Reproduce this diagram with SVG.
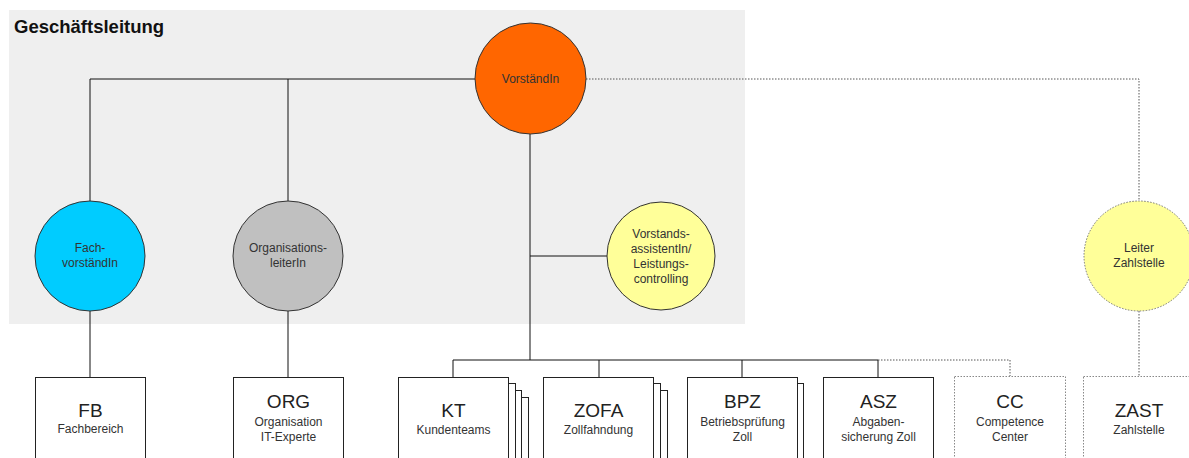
<svg xmlns="http://www.w3.org/2000/svg" width="1189" height="458" viewBox="0 0 1189 458">
<style>
text{font-family:"Liberation Sans",Arial,sans-serif;text-anchor:middle}
.title{font-size:18.5px;font-weight:bold;fill:#111;text-anchor:start}
.ct{font-size:12px;fill:#333}
.bt{font-size:19px;fill:#222}
.bs{font-size:12px;fill:#333}
.circ{stroke:#333;stroke-width:1}
.box{fill:#fff;stroke:#222;stroke-width:1}
.dbox{fill:#fff;stroke:#888;stroke-width:1;stroke-dasharray:1.5 1.5}
.solid{fill:none;stroke:#111;stroke-width:1}
.dot{fill:none;stroke:#555;stroke-width:1;stroke-dasharray:1.5 1.5}
</style>
<rect width="1189" height="458" fill="#fff"/>
<rect id="geschaeftsleitung" x="9" y="10" width="736" height="314" fill="#efefef"/>
<text class="title" x="14" y="33">Geschäftsleitung</text>

<g id="connectors">
<path class="solid" d="M90 201 V79 H475 M288 79 V201 M530 134 V360 M530 256 H607 M453 377 V360 H878 V377 M599 360 V377 M742 360 V377 M90 311 V377 M288 311 V377"/>
<path class="dot" d="M586 79 H1139 V201 M1139 311 V376 M878 360 H1010 V376"/>
</g>

<g id="vorstaendin">
<circle class="circ" cx="530.5" cy="78.5" r="55.5" fill="#ff6600"/>
<text class="ct" x="530.5" y="83">VorständIn</text>
</g>
<g id="fachvorstaendin">
<circle class="circ" cx="90" cy="256" r="55" fill="#00ccff"/>
<text class="ct" x="90" y="252">Fach-</text>
<text class="ct" x="90" y="267">vorständIn</text>
</g>
<g id="organisationsleiterin">
<circle class="circ" cx="288" cy="256" r="55" fill="#c0c0c0"/>
<text class="ct" x="288" y="252">Organisations-</text>
<text class="ct" x="288" y="267">leiterIn</text>
</g>
<g id="vorstandsassistentin">
<circle class="circ" cx="661" cy="256" r="54" fill="#ffff99"/>
<text class="ct" x="661" y="237.5">Vorstands-</text>
<text class="ct" x="661" y="252.5">assistentIn/</text>
<text class="ct" x="661" y="268">Leistungs-</text>
<text class="ct" x="661" y="283">controlling</text>
</g>
<g id="leiterzahlstelle">
<circle cx="1139" cy="256" r="55" fill="#ffff99" stroke="#777" stroke-width="1" stroke-dasharray="1.5 1.5"/>
<text class="ct" x="1139" y="252">Leiter</text>
<text class="ct" x="1139" y="267">Zahlstelle</text>
</g>

<g id="fb">
<rect class="box" x="35.5" y="377.5" width="110" height="100"/>
<text class="bt" x="90.5" y="417">FB</text>
<text class="bs" x="90.5" y="433">Fachbereich</text>
</g>
<g id="org">
<rect class="box" x="233.5" y="377.5" width="110" height="100"/>
<text class="bt" x="288.5" y="408">ORG</text>
<text class="bs" x="288.5" y="426">Organisation</text>
<text class="bs" x="288.5" y="441">IT-Experte</text>
</g>
<g id="kt">
<rect class="box" x="418.5" y="397.5" width="110" height="100"/>
<rect class="box" x="411.5" y="390.5" width="110" height="100"/>
<rect class="box" x="405.5" y="383.5" width="110" height="100"/>
<rect class="box" x="398.5" y="377.5" width="110" height="100"/>
<text class="bt" x="453.5" y="417">KT</text>
<text class="bs" x="453.5" y="434">Kundenteams</text>
</g>
<g id="zofa">
<rect class="box" x="557.5" y="390.5" width="110" height="100"/>
<rect class="box" x="550.5" y="383.5" width="110" height="100"/>
<rect class="box" x="543.5" y="377.5" width="110" height="100"/>
<text class="bt" x="598.5" y="417">ZOFA</text>
<text class="bs" x="598.5" y="434">Zollfahndung</text>
</g>
<g id="bpz">
<rect class="box" x="693.5" y="383.5" width="110" height="100"/>
<rect class="box" x="687.5" y="377.5" width="110" height="100"/>
<text class="bt" x="742.5" y="408">BPZ</text>
<text class="bs" x="742.5" y="426">Betriebsprüfung</text>
<text class="bs" x="742.5" y="441">Zoll</text>
</g>
<g id="asz">
<rect class="box" x="823.5" y="377.5" width="110" height="100"/>
<text class="bt" x="878.5" y="408">ASZ</text>
<text class="bs" x="878.5" y="426">Abgaben-</text>
<text class="bs" x="878.5" y="441">sicherung Zoll</text>
</g>
<g id="cc">
<rect class="dbox" x="954.5" y="376.5" width="111" height="100"/>
<text class="bt" x="1010" y="408">CC</text>
<text class="bs" x="1010" y="426">Competence</text>
<text class="bs" x="1010" y="441">Center</text>
</g>
<g id="zast">
<rect class="dbox" x="1083.5" y="376.5" width="111" height="100"/>
<text class="bt" x="1139" y="417">ZAST</text>
<text class="bs" x="1139" y="434">Zahlstelle</text>
</g>
</svg>
